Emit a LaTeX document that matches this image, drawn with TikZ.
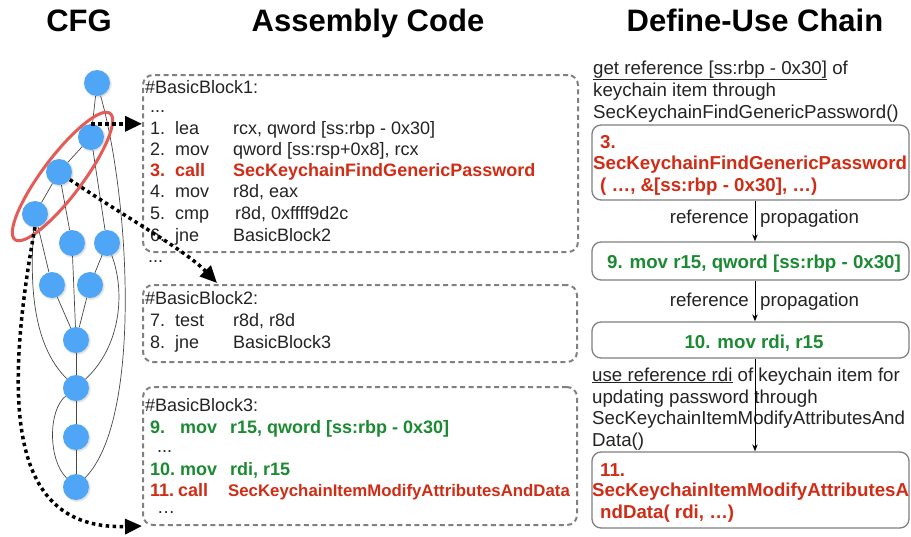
\documentclass[tikz,border=0pt]{standalone}
\usepackage{fontspec}
\setmainfont{Liberation Sans}
\usepackage{graphicx}
\usetikzlibrary{arrows.meta,shadows}
\definecolor{cfgblue}{RGB}{80,166,246}
\definecolor{ellred}{RGB}{228,92,88}
\definecolor{codered}{RGB}{208,44,22}
\definecolor{codegreen}{RGB}{28,138,50}
\definecolor{boxgray}{RGB}{128,128,128}
\definecolor{txtgray}{RGB}{35,35,35}
\newcommand{\asmline}[3]{\makebox[25pt][l]{#1}\makebox[58pt][l]{#2}#3}
\begin{document}
\begin{tikzpicture}[x=1pt,y=-1pt,
  cfgnode/.style={circle,fill=cfgblue,minimum size=26pt,inner sep=0pt,
    circular drop shadow={shadow xshift=0.6pt,shadow yshift=-0.8pt,opacity=0.25}},
  cfgedge/.style={draw=black!72,line width=0.7pt},
  dotarrow/.style={line width=3.5pt,dash pattern=on 3.5pt off 3.5pt,
    -{Triangle[length=17pt,width=15pt]}},
  dbox/.style={draw=boxgray,line width=2pt,dash pattern=on 5pt off 3.5pt,
    rounded corners=10pt,inner sep=0pt},
  rbox/.style={draw=black!50,line width=1.3pt,rounded corners=9pt,inner sep=0pt,
    minimum width=317pt},
  title/.style={anchor=base,inner sep=0pt,font=\fontsize{31}{36}\selectfont\bfseries},
  asm/.style={anchor=base west,inner sep=0pt,text=txtgray,font=\fontsize{18}{21}\selectfont},
  dots/.style={asm,text height=3pt,text depth=0pt},
  asmred/.style={asm,text=codered,font=\fontsize{18}{21}\selectfont\bfseries},
  asmgreen/.style={asm,text=codegreen,font=\fontsize{18}{21}\selectfont\bfseries},
  rtxt/.style={anchor=base west,inner sep=0pt,text=txtgray,font=\fontsize{18.7}{22}\selectfont},
  rred/.style={rtxt,text=codered,font=\fontsize{18.7}{22}\selectfont\bfseries},
  rgreen/.style={anchor=base,inner sep=0pt,text=codegreen,font=\fontsize{18.7}{22}\selectfont\bfseries},
  flowarrow/.style={line width=1pt,-{Stealth[length=7pt,width=5.5pt]}}
]
\useasboundingbox (0,0) rectangle (911,536);

% titles
\node[title] (tcfg) at (79,31) {CFG};
\node[title] (tasm) at (368,31) {Assembly Code};
\node[title] (tduc) at (755,31) {Define-Use Chain};

% CFG nodes
\node[cfgnode] (n1) at (97,83) {};
\node[cfgnode] (n2) at (91,137) {};
\node[cfgnode] (n3) at (59,172) {};
\node[cfgnode] (n4) at (35,214) {};
\node[cfgnode] (n5) at (72,243) {};
\node[cfgnode] (n6) at (107,243) {};
\node[cfgnode] (n7) at (52,285) {};
\node[cfgnode] (n8) at (90,285) {};
\node[cfgnode] (n9) at (76,340) {};
\node[cfgnode] (n10) at (76,388) {};
\node[cfgnode] (n11) at (76,437) {};
\node[cfgnode] (n12) at (76,487) {};

% CFG edges
\draw[cfgedge] (n1) -- (n2);
\draw[cfgedge] (n1) .. controls (130,200) and (142,420) .. (n12);
\draw[cfgedge] (n2) -- (n3);
\draw[cfgedge] (n2) -- (n6);
\draw[cfgedge] (n3) -- (n4);
\draw[cfgedge] (n3) -- (n5);
\draw[cfgedge] (n4) -- (n7);
\draw[cfgedge] (n4) .. controls (28,300) and (38,350) .. (n10);
\draw[cfgedge] (n5) -- (n9);
\draw[cfgedge] (n6) -- (n8);
\draw[cfgedge] (n6) .. controls (125,290) and (122,345) .. (n10);
\draw[cfgedge] (n7) -- (n9);
\draw[cfgedge] (n8) -- (n9);
\draw[cfgedge] (n9) -- (n10);
\draw[cfgedge] (n10) -- (n11);
\draw[cfgedge] (n11) -- (n12);
\draw[cfgedge] (n10) .. controls (48,410) and (48,460) .. (n12);

% red ellipse
\begin{scope}[shift={(62.5,176.5)},rotate=53]
\draw[ellred,line width=3pt] (0,0) ellipse [x radius=79pt, y radius=20pt];
\end{scope}

% assembly boxes
\node[dbox,minimum width=435pt,minimum height=177pt] (b1) at (360.5,163.5) {};
\node[dbox,minimum width=434pt,minimum height=77pt] (b2) at (360,323.5) {};
\node[dbox,minimum width=434pt,minimum height=138pt] (b3) at (360,456) {};

\node[asm] (h1) at (145,93) {\#BasicBlock1:};
\node[dots] (d1) at (150,112) {...};
\node[asm] (l1) at (150,134) {\asmline{1.}{lea}{rcx, qword [ss:rbp - 0x30]}};
\node[asm] (l2) at (150,155) {\asmline{2.}{mov}{qword [ss:rsp+0x8], rcx}};
\node[asmred] (l3) at (150,176) {\asmline{3.}{call}{SecKeychainFindGenericPassword}};
\node[asm] (l4) at (150,197) {\asmline{4.}{mov}{r8d, eax}};
\node[asm] (l5) at (150,219) {\asmline{5.}{cmp}{\hspace{2pt}r8d, 0xffff9d2c}};
\node[asm] (l6) at (150,241) {\asmline{6.}{jne}{BasicBlock2}};
\node[dots] (d2) at (148,262) {...};

\node[asm] (h2) at (145,304) {\#BasicBlock2:};
\node[asm] (l7) at (150,326) {\asmline{7.}{test}{r8d, r8d}};
\node[asm] (l8) at (150,348) {\asmline{8.}{jne}{BasicBlock3}};

\node[asm] (h3) at (145,411) {\#BasicBlock3:};
\node[asmgreen] (l9) at (150,433) {\makebox[30pt][l]{9.}\makebox[50pt][l]{mov}r15, qword [ss:rbp - 0x30]};
\node[dots] (d3) at (157,452) {...};
\node[asmgreen] (l10) at (150,475) {\makebox[30pt][l]{10.}\makebox[50pt][l]{mov}rdi, r15};
\node[asmred] (l11) at (150,496) {\makebox[28pt][l]{11.}\makebox[50pt][l]{call}{\fontsize{16.8}{20}\selectfont SecKeychainItemModifyAttributesAndData}};
\node[dots] (d4) at (157,513) {…};

% dotted arrows
\draw[dotarrow] (n2.north) -- (n2.north -| b1.west);
\coordinate (t2) at (217,283);
\draw[dotarrow] (n3.-35) .. controls (130,220) and (185,250) .. (t2);
\draw[dotarrow] (n4.south) .. controls (0,420) and (15,530) .. (b3.south west);

% define-use chain
\node[rtxt] (r1) at (593,74) {\underline{get reference [ss:rbp - 0x30]} of};
\node[rtxt] (r2) at (593,96) {keychain item through};
\node[rtxt] (r3) at (593,118) {SecKeychainFindGenericPassword()};

\node[rbox,minimum height=75pt] (bA) at (750.5,162.5) {};
\node[rred] (a1) at (600,148) {3.};
\node[rred] (a2) at (593,169) {SecKeychainFindGenericPassword};
\node[rred] (a3) at (600,191) {( …, \&[ss:rbp - 0x30], …)};

\node[rbox,minimum height=38pt] (bB) at (750.5,261) {};
\node[rgreen] (bBt) at (754,268) {9. mov r15, qword [ss:rbp - 0x30]};

\node[rbox,minimum height=36pt] (bC) at (750.5,340) {};
\node[rgreen] (bCt) at (754,348) {10. mov rdi, r15};

\node[rbox,minimum height=76pt] (bD) at (750.5,490) {};
\node[rred] (e1) at (600,476) {11.};
\node[rred] (e2) at (592,496) {SecKeychainItemModifyAttributesA};
\node[rred] (e3) at (600,518) {ndData( rdi, …)};

\node[rtxt,anchor=base east] (p1) at (749,223) {reference};
\node[rtxt] (p2) at (760,223) {propagation};
\node[rtxt,anchor=base east] (p3) at (749,306) {reference};
\node[rtxt] (p4) at (760,306) {propagation};

\node[rtxt] (u1) at (592,381) {\underline{use reference rdi} of keychain item for};
\node[rtxt] (u2) at (592,403) {updating password through};
\node[rtxt] (u3) at (592,424) {SecKeychainItemModifyAttributesAnd};
\node[rtxt] (u4) at (592,446) {Data()};

\draw[flowarrow] ([xshift=4.5pt]bA.south) -- ([xshift=4.5pt]bB.north);
\draw[flowarrow] ([xshift=4.5pt]bB.south) -- ([xshift=4.5pt]bC.north);
\draw[flowarrow] ([xshift=4.5pt]bC.south) -- ([xshift=4.5pt]bD.north);
\end{tikzpicture}
\end{document}
